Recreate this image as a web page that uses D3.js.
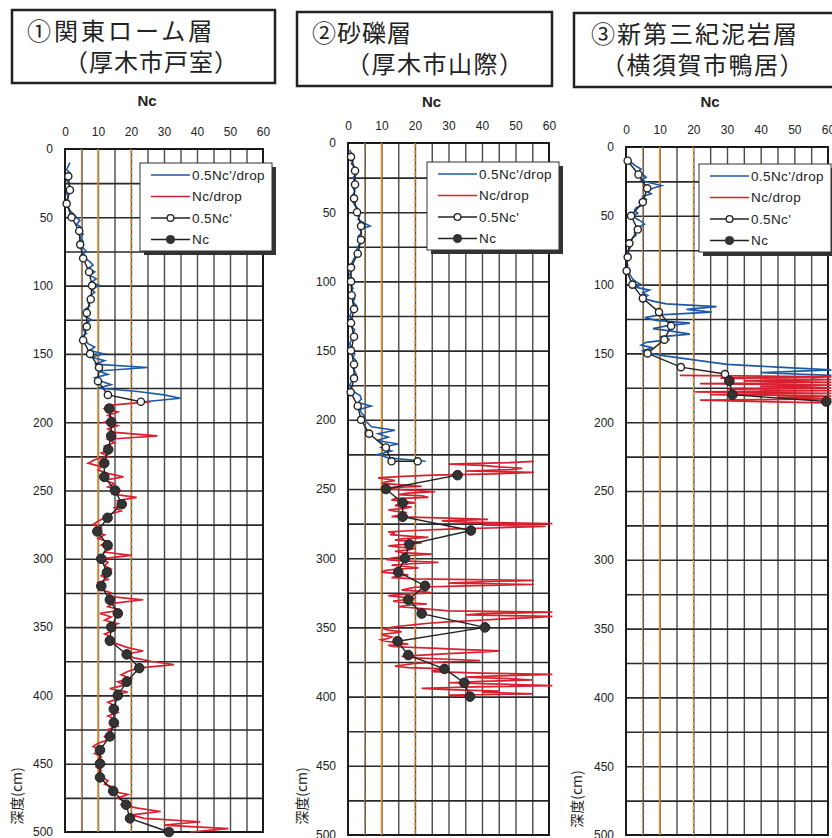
<!doctype html>
<html lang="ja">
<head>
<meta charset="utf-8">
<title>Nc 深度分布</title>
<script src="https://d3js.org/d3.v7.min.js"></script>
<style>
  body { margin: 0; background: #fff; }
  text { font-family: "Liberation Sans", Arial, sans-serif; fill: #222; }
  .jp { font-family: "Noto Sans CJK JP", sans-serif; }
  .grid-v line { stroke: #4a4a4a; stroke-width: 1.4px; }
  .grid-h line { stroke: #2a2a2a; stroke-width: 1.6px; }
  .frame { fill: none; stroke: #1a1a1a; stroke-width: 2px; }
</style>
</head>
<body>
<svg id="chart" width="832" height="838"></svg>
<script>
// ---- data ----
const xTicks = [0, 10, 20, 30, 40, 50, 60]
const yTicks = [0, 50, 100, 150, 200, 250, 300, 350, 400, 450, 500]
const xGrid = [5, 10, 15, 20, 25, 30, 35, 40, 45, 50, 55]
const yGrid = [25, 50, 75, 100, 125, 150, 175, 200, 225, 250, 275, 300, 325, 350, 375, 400, 425, 450, 475]
const refNc = [5, 10, 20]
const legendLabels = ["0.5Nc'/drop", "Nc/drop", "0.5Nc'", "Nc"]

// ① 関東ローム層
const p1OpenDepth = [20, 30, 40, 50, 60, 70, 80, 90, 100, 110, 120, 130, 140, 150, 160, 170, 180, 185]
const p1OpenNc = [1, 1.5, 0.5, 2, 4.3, 4.6, 5.5, 7.3, 8.2, 7.8, 6.6, 6.6, 5.5, 7.6, 10.3, 10, 13, 23]
const p1NcDepth = [190, 200, 210, 220, 230, 240, 250, 260, 270, 280, 290, 300, 310, 320, 330, 340,
  350, 360, 370, 380, 390, 400, 410, 420, 430, 440, 450, 460, 470, 480, 490, 500]
const p1Nc = [13.4, 14, 14, 13.1, 11.9, 11.9, 15.2, 17.2, 12.9, 9.8, 12.9, 11, 12.7, 11, 13.6, 16,
  14, 13.6, 18.7, 22.5, 18.7, 16, 14.8, 14.8, 13.6, 10.6, 10.6, 10.6, 14.6, 18.5, 19.7, 31.5]
// drop series: first depth, depth step, values
const p1BlueStart = 10, p1BlueStep = 2.5
const p1Blue = [1.5, 1, 0.5, 1.5, 1, 0.5, 1, 1.5, 1, 0.5,
  1, 0.5, 0.5, 1, 1.5, 2.5, 3.5, 4.5, 3.5, 5,
  4, 5.5, 4.5, 5.5, 4.5, 5.5, 6.5, 5, 6, 7.5,
  8.5, 7, 9, 7.5, 9.5, 8, 10.5, 8, 9, 7.5,
  8.5, 7, 7.5, 6, 7.5, 6, 8, 6.5, 7, 5.5,
  6.5, 5, 6, 7, 9, 7.5, 11.7, 8, 12, 9,
  25, 10, 13, 9, 11, 14, 10, 22, 30, 35,
  24]
const p1RedStart = 185, p1RedStep = 2.5
const p1Red = [26, 14, 12, 16, 13, 15, 12, 16, 13, 15,
  28, 13, 15, 12, 14, 11, 13, 9, 7, 11,
  10, 13, 17.7, 12, 15, 13, 17, 14, 21.7, 16,
  18, 15, 17, 13, 12, 10, 8.5, 11, 9, 12,
  10, 13, 11, 14, 12, 20, 11, 13, 12, 14,
  12, 11, 13, 10, 12, 11, 14, 13, 23.7, 15,
  13, 17, 10.6, 14, 12, 16, 13, 15, 12, 14,
  13, 16, 19, 23.7, 18, 21, 26, 33, 22, 19,
  17, 20, 16, 18, 13.6, 19, 15, 16, 13, 15,
  14, 16, 13, 15, 14, 16, 13, 14, 12, 13,
  10, 8.5, 11, 9, 11, 10, 12, 9.5, 11, 10,
  11, 13, 12, 15, 14, 19, 16, 18, 17, 22,
  29, 20, 24, 41, 30, 49.5, 38]

// ② 砂礫層
const p2OpenDepth = [10, 20, 30, 40, 50, 60, 70, 80, 90, 100, 110, 120, 130, 140, 150, 160,
  170, 180, 190, 200, 210, 220, 230, 230]
const p2OpenNc = [0.9, 2.1, 2.1, 1.8, 2.7, 3.9, 3.9, 2.9, 0.9, 0.9, 1.1, 1.8, 0.9, 1.8, 0.9, 1.8,
  1.8, 0.8, 2.9, 3.9, 6.3, 11.3, 13, 20.8]
const p2NcDepth = [240, 250, 260, 270, 280, 290, 300, 310, 320, 330, 340, 350, 360, 370, 380, 390, 400]
const p2Nc = [32.7, 11.3, 16.3, 16.3, 36.7, 18.3, 17, 15, 23, 18, 22, 40.9, 14.8, 18, 28.8, 34.7, 36.4]
const p2BlueStart = 5, p2BlueStep = 2.5
const p2Blue = [0.5, 1, 0.5, 1.5, 1, 2, 1.5, 2.5, 1.5, 2,
  2.5, 1.5, 2, 1.5, 2.5, 1.5, 2, 3, 2.5, 3.5,
  3, 4.5, 6.6, 3.5, 4, 3, 4.5, 3.5, 3, 2.5,
  3, 2, 1.5, 1, 0.5, 1, 0.5, 1, 0.5, 1,
  1.5, 1, 1.5, 2, 1.5, 2.5, 1.5, 1, 0.5, 1,
  1.5, 1, 2, 1.5, 2, 1, 0.5, 1, 1.5, 2,
  1.5, 2.5, 2, 1.5, 2, 2.5, 1.5, 1, 0.5, 1,
  2, 3.6, 4, 3, 6.9, 3.5, 4, 5, 4.5, 6,
  7, 14, 9, 12, 8.6, 15, 10, 13, 9, 12,
  23.2]
const p2RedStart = 230, p2RedStep = 1
const p2Red = [55.5, 48, 30, 40, 45, 52, 49, 35, 55.5, 44,
  25, 15, 9, 12, 14, 11, 10, 16, 22, 13,
  12, 20, 26, 18, 15, 22, 24, 14, 13, 17,
  20, 15, 14, 19, 17, 12, 14, 17, 16, 15,
  13, 30, 41.8, 28, 35, 61, 40, 59, 45, 30,
  20, 12, 14, 12.5, 18, 24, 16, 14, 20, 22,
  17, 12, 15, 20, 18, 14, 16, 25, 19, 16,
  13, 11.5, 16, 27, 19, 13, 17, 21, 14, 11,
  10, 14, 18, 15, 13, 20, 55.5, 40, 30, 55.5,
  35, 20, 18, 16, 22, 25, 17, 12, 15, 20,
  17, 13.5, 16, 23.5, 18, 15, 20, 25, 30, 61,
  40, 35, 61, 55, 45, 38, 30, 24, 20, 16,
  13, 10.5, 12, 16, 14, 10, 11, 13, 12, 9.8,
  11, 15, 18, 12, 14, 25, 35, 45.4, 38, 30,
  22, 16, 20, 30, 39.4, 28, 20, 17, 14, 18,
  30, 26, 25, 40, 61, 45, 35, 48, 55.2, 40,
  30, 45, 61, 38, 22, 30, 45, 40, 55, 30,
  36.4]

// ③ 新第三紀泥岩層
const p3OpenDepth = [10, 20, 30, 40, 50, 60, 70, 80, 90, 100, 110, 120, 130, 140, 150, 160, 165]
const p3OpenNc = [0.5, 3.7, 6.3, 5, 1.5, 3.5, 1, 0.5, 0.2, 1.9, 5, 9.8, 13.4, 11.4, 6.4, 16.3, 29.4]
const p3NcDepth = [170, 180, 185]
const p3Nc = [30.7, 31.6, 59.5]
const p3BlueStart = 10, p3BlueStep = 2
const p3Blue = [0.5, 2, 3, 4.5, 3.5, 5, 6, 4.5, 7, 10.6,
  8, 6, 7.5, 5, 6, 4, 5.5, 3, 2.5, 3.5,
  2, 3, 4.5, 5.5, 4, 3.5, 2.5, 3, 2, 1.5,
  1, 1.5, 1, 0.5, 1, 0.5, 0.5, 0.3, 0.5, 0.3,
  0.5, 1, 1.5, 2, 3, 4.5, 3, 7, 5, 6.5,
  5, 8, 12, 26.9, 18, 25.4, 10, 5.6, 9, 19,
  12, 8, 14, 19, 10, 13, 6, 4.5, 8, 5,
  7, 12, 18, 24, 30, 45, 61, 40, 61, 55]
const p3RedStart = 166, p3RedStep = 1
const p3Red = [16, 61, 28, 61, 35, 61, 22, 61, 40, 61, 30, 61, 20.5, 61, 25, 61, 45, 61, 22, 40, 59.5]

// ---- layout ----
const panels = [
  { x0: 65, x1: 263, y0: 149, y1: 832,
    box: [12, 10, 263, 73], title: ['①関東ローム層', '（厚木市戸室）'], t1x: 27, t1ls: 3, t2x: 64, t2ls: 1,
    ncY: 106, tickBase: 136, leg: [140, 163], ylab: [17, 796],
    open: [p1OpenDepth, p1OpenNc], nc: [p1NcDepth, p1Nc],
    blue: [p1BlueStart, p1BlueStep, p1Blue], red: [p1RedStart, p1RedStep, p1Red] },
  { x0: 348, x1: 549, y0: 143, y1: 835,
    box: [297, 12, 255, 74], title: ['②砂礫層', '（厚木市山際）'], t1x: 312, t1ls: 1, t2x: 346, t2ls: 1.5,
    ncY: 107, tickBase: 130, leg: [427, 162], ylab: [302, 796],
    open: [p2OpenDepth, p2OpenNc], nc: [p2NcDepth, p2Nc],
    blue: [p2BlueStart, p2BlueStep, p2Blue], red: [p2RedStart, p2RedStep, p2Red] },
  { x0: 626, x1: 828, y0: 147, y1: 835,
    box: [574, 13, 270, 74], title: ['③新第三紀泥岩層', '（横須賀市鴨居）'], t1x: 591, t1ls: 2, t2x: 601, t2ls: 1.5,
    ncY: 107, tickBase: 134, leg: [699, 164], ylab: [577, 799],
    open: [p3OpenDepth, p3OpenNc], nc: [p3NcDepth, p3Nc],
    blue: [p3BlueStart, p3BlueStep, p3Blue], red: [p3RedStart, p3RedStep, p3Red] }
]

const blue = '#1d5aa6'
const red = '#d8202e'
const refStyle = [
  { color: '#b8844c', dash: '4,2', w: 1.3 },
  { color: '#e8902c', dash: null, w: 1.6 },
  { color: '#e39a3c', dash: '5,2', w: 1.3 }
]

const svg = d3.select('#chart')

const drawPanel = p => {
  const x = d3.scaleLinear().domain([0, 60]).range([p.x0, p.x1])
  const y = d3.scaleLinear().domain([0, 500]).range([p.y0, p.y1])
  const g = svg.append('g')

  // title box
  g.append('rect')
    .attr('x', p.box[0]).attr('y', p.box[1])
    .attr('width', p.box[2]).attr('height', p.box[3])
    .attr('fill', 'none').attr('stroke', '#222').attr('stroke-width', 2.5)
  g.append('text').attr('class', 'jp')
    .attr('x', p.t1x).attr('y', p.box[1] + 30)
    .style('font-size', '24px').style('letter-spacing', p.t1ls + 'px')
    .text(p.title[0])
  g.append('text').attr('class', 'jp')
    .attr('x', p.t2x).attr('y', p.box[1] + 61)
    .style('font-size', '24px').style('letter-spacing', p.t2ls + 'px')
    .text(p.title[1])

  g.append('text')
    .attr('x', (p.x0 + p.x1) / 2 - 17).attr('y', p.ncY)
    .attr('text-anchor', 'middle')
    .style('font-size', '15px').style('font-weight', 'bold')
    .text('Nc')

  // grid from axis ticks
  const gv = g.append('g').attr('class', 'grid-v')
    .attr('transform', `translate(0,${p.y0})`)
    .call(d3.axisBottom(x).tickValues(xGrid).tickSize(p.y1 - p.y0).tickFormat(''))
  gv.select('.domain').remove()
  const gh = g.append('g').attr('class', 'grid-h')
    .attr('transform', `translate(${p.x0},0)`)
    .call(d3.axisRight(y).tickValues(yGrid).tickSize(p.x1 - p.x0).tickFormat(''))
  gh.select('.domain').remove()
  g.append('rect').attr('class', 'frame')
    .attr('x', p.x0).attr('y', p.y0)
    .attr('width', p.x1 - p.x0).attr('height', p.y1 - p.y0)

  // reference Nc lines
  g.selectAll('line.ref').data(refNc).join('line')
    .attr('class', 'ref')
    .attr('x1', d => x(d)).attr('x2', d => x(d))
    .attr('y1', y(0)).attr('y2', y(500))
    .style('stroke', (d, i) => refStyle[i].color)
    .style('stroke-width', (d, i) => refStyle[i].w)
    .style('stroke-dasharray', (d, i) => refStyle[i].dash)

  // axes labels
  const top = g.append('g').attr('transform', `translate(0,${p.tickBase})`)
    .call(d3.axisTop(x).tickValues(xTicks).tickSize(0).tickPadding(0))
  top.select('.domain').remove()
  top.selectAll('text').style('font-size', '12px').attr('fill', '#222')
    .style('font-family', '"Liberation Sans", Arial, sans-serif')

  const left = g.append('g').attr('transform', `translate(${p.x0},0)`)
    .call(d3.axisLeft(y).tickValues(yTicks).tickSize(0).tickPadding(12))
  left.select('.domain').remove()
  left.selectAll('text').style('font-size', '12px').attr('fill', '#222')
    .style('font-family', '"Liberation Sans", Arial, sans-serif')

  g.append('text').attr('class', 'jp')
    .attr('transform', `translate(${p.ylab[0]},${p.ylab[1]}) rotate(-90)`)
    .attr('text-anchor', 'middle').attr('dy', '0.35em')
    .style('font-size', '14px')
    .text('深度(cm)')

  const line = d3.line().x(d => x(d[0])).y(d => y(d[1]))
  const dropPts = s => s[2].map((v, i) => [v, s[0] + i * s[1]])

  g.append('path').datum(dropPts(p.blue))
    .attr('d', line).attr('fill', 'none').attr('stroke', blue).attr('stroke-width', 1.6)
  g.append('path').datum(dropPts(p.red))
    .attr('d', line).attr('fill', 'none').attr('stroke', red).attr('stroke-width', 1.7)

  const openPts = p.open[1].map((v, i) => [v, p.open[0][i]])
  const ncPts = p.nc[1].map((v, i) => [v, p.nc[0][i]])

  g.append('path').datum(openPts)
    .attr('d', line).attr('fill', 'none').attr('stroke', '#222').attr('stroke-width', 1.4)
  g.append('path').datum(ncPts)
    .attr('d', line).attr('fill', 'none').attr('stroke', '#222').attr('stroke-width', 1.4)

  g.selectAll('circle.oc').data(openPts).join('circle')
    .attr('class', 'oc')
    .attr('cx', d => x(d[0])).attr('cy', d => y(d[1])).attr('r', 3.6)
    .attr('fill', '#fff').attr('stroke', '#222').attr('stroke-width', 1.4)
  g.selectAll('circle.fc').data(ncPts).join('circle')
    .attr('class', 'fc')
    .attr('cx', d => x(d[0])).attr('cy', d => y(d[1])).attr('r', 4.8)
    .attr('fill', '#333').attr('stroke', '#222').attr('stroke-width', 1)

  // legend
  const lg = g.append('g').attr('transform', `translate(${p.leg[0]},${p.leg[1]})`)
  const lw = 132, lh = 88
  lg.append('rect').attr('x', 4).attr('y', 4).attr('width', lw).attr('height', lh).attr('fill', '#333')
  lg.append('rect').attr('width', lw).attr('height', lh)
    .attr('fill', '#fff').attr('stroke', '#333').attr('stroke-width', 1)
  const rows = lg.selectAll('g.row').data(legendLabels).join('g')
    .attr('class', 'row')
    .attr('transform', (d, i) => `translate(0,${12 + i * 21.5})`)
  rows.append('line')
    .attr('x1', 11).attr('x2', 50).attr('y1', 0).attr('y2', 0)
    .attr('stroke', (d, i) => [blue, red, '#222', '#222'][i])
    .attr('stroke-width', 1.5)
  rows.filter((d, i) => i === 2).append('circle')
    .attr('cx', 30.5).attr('r', 3.4).attr('fill', '#fff').attr('stroke', '#222').attr('stroke-width', 1.3)
  rows.filter((d, i) => i === 3).append('circle')
    .attr('cx', 30.5).attr('r', 4.6).attr('fill', '#333')
  rows.append('text')
    .attr('x', 52).attr('dy', '0.35em')
    .style('font-size', '13.5px').style('letter-spacing', '0.4px')
    .text(d => d)
}

panels.forEach(drawPanel)
</script>
</body>
</html>
